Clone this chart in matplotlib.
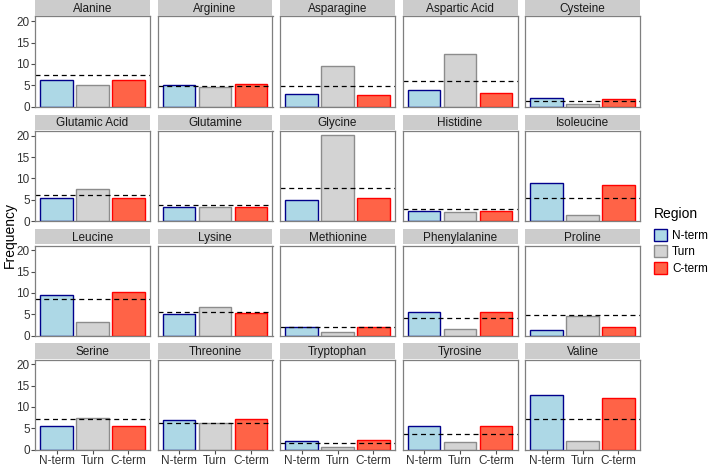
import matplotlib
matplotlib.use("Agg")
import matplotlib.pyplot as plt
from matplotlib.patches import Patch

plt.rcParams['font.family'] = ['Liberation Sans', 'DejaVu Sans']

# -----------------------------
# Data
# -----------------------------
amino = ["Alanine", "Arginine", "Asparagine", "Aspartic Acid", "Cysteine",
         "Glutamic Acid", "Glutamine", "Glycine", "Histidine", "Isoleucine",
         "Leucine", "Lysine", "Methionine", "Phenylalanine", "Proline",
         "Serine", "Threonine", "Tryptophan", "Tyrosine", "Valine"]
regions = ["N-term", "Turn", "C-term"]

nterm = [6.2, 5.0, 2.9, 3.95, 2.0,
         5.4, 3.2, 5.0, 2.3, 8.8,
         9.6, 5.05, 1.95, 5.5, 1.3,
         5.5, 7.0, 1.9, 5.4, 12.7]
turn = [5.0, 4.6, 9.5, 12.2, 0.6,
        7.4, 3.4, 20.1, 2.1, 1.3,
        3.1, 6.8, 0.8, 1.55, 4.5,
        7.35, 6.1, 0.6, 1.7, 2.0]
cterm = [6.1, 5.2, 2.8, 3.2, 1.8,
         5.35, 3.3, 5.3, 2.4, 8.5,
         10.2, 5.3, 2.0, 5.5, 1.9,
         5.5, 7.2, 2.2, 5.6, 12.1]
overall = [7.4, 4.8, 4.7, 6.0, 1.4,
           6.1, 3.7, 7.7, 2.7, 5.5,
           8.55, 5.5, 2.0, 4.05, 4.7,
           7.2, 6.1, 1.55, 3.7, 7.1]

fills = ["#ADD8E6", "#D3D3D3", "#FF6347"]
edges = ["#00008B", "#8C8C8C", "#FF0000"]

# -----------------------------
# Layout (pixels)
# -----------------------------
W, H = 709, 467
fig = plt.figure(figsize=(W / 100, H / 100), dpi=100)

col_left = [35, 157.5, 280, 402.5, 525]
row_top = [16.5, 131, 245.5, 359.5]
pw, ph = 115, 90
strip_h = 15.5
border = "#7F7F7F"
ymax = 20.1 * 1.05

for i, name in enumerate(amino):
    r, c = divmod(i, 5)
    x0 = col_left[c]
    y0 = row_top[r]
    ax = fig.add_axes([x0 / W, 1 - (y0 + ph) / H, pw / W, ph / H])
    vals = [nterm[i], turn[i], cterm[i]]
    ax.bar(range(3), vals, width=0.9, color=fills, edgecolor=edges, linewidth=1.0)
    ax.axhline(overall[i], color="black", linestyle=(0, (4, 3)), linewidth=0.9)
    ax.set_xlim(-0.6, 2.6)
    ax.set_ylim(0, ymax)
    for s in ax.spines.values():
        s.set_color(border)
        s.set_linewidth(0.9)
    ax.tick_params(color="#4D4D4D", length=2.75, width=0.8, labelsize=8.5,
                   labelcolor="#333333", pad=1)
    ax.set_xticks(range(3))
    ax.set_yticks([0, 5, 10, 15, 20])
    if r == 3:
        ax.set_xticklabels(regions)
    else:
        ax.tick_params(axis="x", length=0, labelbottom=False)
    if c != 0:
        ax.tick_params(axis="y", length=0, labelleft=False)

    # facet strip
    sax = fig.add_axes([x0 / W, 1 - (y0 - 1) / H, pw / W, strip_h / H])
    sax.set_facecolor("#CCCCCC")
    sax.set_xticks([])
    sax.set_yticks([])
    for s in sax.spines.values():
        s.set_visible(False)
    sax.text(0.5, 0.45, name, ha="center", va="center", fontsize=8.5,
             color="#1A1A1A", transform=sax.transAxes)

fig.text(10 / W, 1 - 235 / H, "Frequency", rotation=90, ha="center",
         va="center", fontsize=10)

handles = [Patch(facecolor=fills[k], edgecolor=edges[k], linewidth=1.0,
                 label=regions[k]) for k in range(3)]
leg = fig.legend(handles=handles, title="Region", loc="upper left",
                 bbox_to_anchor=(649 / W, 1 - 202 / H), frameon=False,
                 fontsize=8.5, title_fontsize=10, handlelength=1.1,
                 handleheight=1.15, handletextpad=0.45, labelspacing=0.3,
                 borderaxespad=0)
leg._legend_box.align = "left"
leg._legend_box.sep = 6

fig.savefig("out.png", dpi=100)
